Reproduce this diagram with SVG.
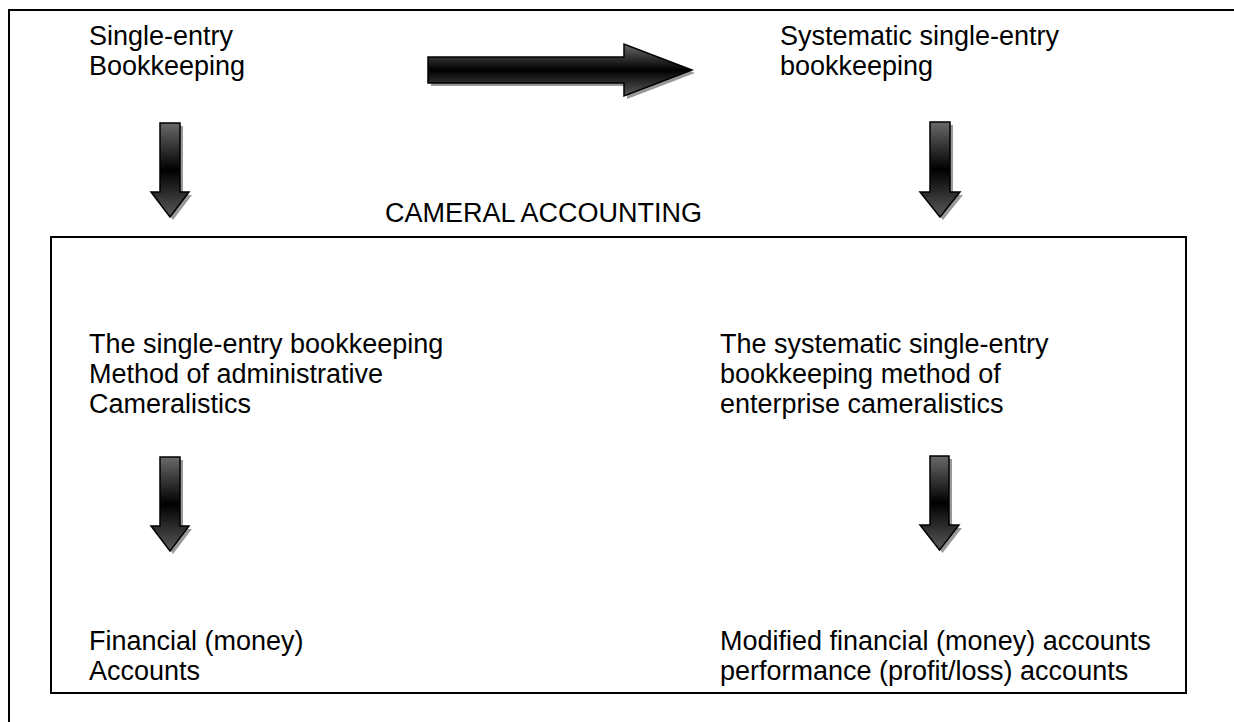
<svg xmlns="http://www.w3.org/2000/svg" width="1234" height="722" viewBox="0 0 1234 722">
<defs>
<linearGradient id="g" x1="0" y1="0" x2="0" y2="1">
<stop offset="0" stop-color="#6a6a6a"/>
<stop offset="0.5" stop-color="#000"/>
<stop offset="1" stop-color="#5a5a5a"/>
</linearGradient>
</defs>
<style>
text{font-family:"Liberation Sans",Arial,sans-serif;font-size:27px;fill:#000}
.frame{fill:none;stroke:#000;stroke-width:2}
.arr{fill:url(#g);stroke:#000;stroke-width:1.5;stroke-linejoin:miter}
.sh{fill:#999;stroke:none}
</style>
<rect width="1234" height="722" fill="#fff"/>
<g id="frame"><path class="frame" d="M9,722 V10 H1234"/></g>
<g id="node-single"><text x="89" y="45">Single-entry</text><text x="89" y="75">Bookkeeping</text></g>
<g id="node-systematic"><text x="780" y="45">Systematic single-entry</text><text x="780" y="75">bookkeeping</text></g>
<g id="node-cameral-title"><text x="385" y="222">CAMERAL ACCOUNTING</text></g>
<g id="node-cameral-box"><rect class="frame" x="51" y="237" width="1135" height="456"/></g>
<g id="node-admin"><text x="89" y="353">The single-entry bookkeeping</text><text x="89" y="383">Method of administrative</text><text x="89" y="413">Cameralistics</text></g>
<g id="node-enterprise"><text x="720" y="353">The systematic single-entry</text><text x="720" y="383">bookkeeping method of</text><text x="720" y="413">enterprise cameralistics</text></g>
<g id="node-financial"><text x="89" y="650">Financial (money)</text><text x="89" y="680">Accounts</text></g>
<g id="node-modified"><text x="720" y="650">Modified financial (money) accounts</text><text x="720" y="680">performance (profit/loss) accounts</text></g>
<g id="connectors">
<path class="sh" transform="translate(3,3)" d="M428,57 H624 V44 L692,70 L624,96 V83 H428 Z"/>
<path class="arr" d="M428,57 H624 V44 L692,70 L624,96 V83 H428 Z"/>
<path class="sh" transform="translate(3,3)" d="M160,123 H180 V192 H189 L170,217 L151,192 H160 Z"/>
<path class="arr" d="M160,123 H180 V192 H189 L170,217 L151,192 H160 Z"/>
<path class="sh" transform="translate(3,3)" d="M930,122 H950 V192 H960 L940,217 L920,192 H930 Z"/>
<path class="arr" d="M930,122 H950 V192 H960 L940,217 L920,192 H930 Z"/>
<path class="sh" transform="translate(3,3)" d="M160,457 H180 V526 H189 L170,551 L151,526 H160 Z"/>
<path class="arr" d="M160,457 H180 V526 H189 L170,551 L151,526 H160 Z"/>
<path class="sh" transform="translate(3,3)" d="M930,456 H949 V525 H959 L939.5,550 L920,525 H930 Z"/>
<path class="arr" d="M930,456 H949 V525 H959 L939.5,550 L920,525 H930 Z"/>
</g>
</svg>
